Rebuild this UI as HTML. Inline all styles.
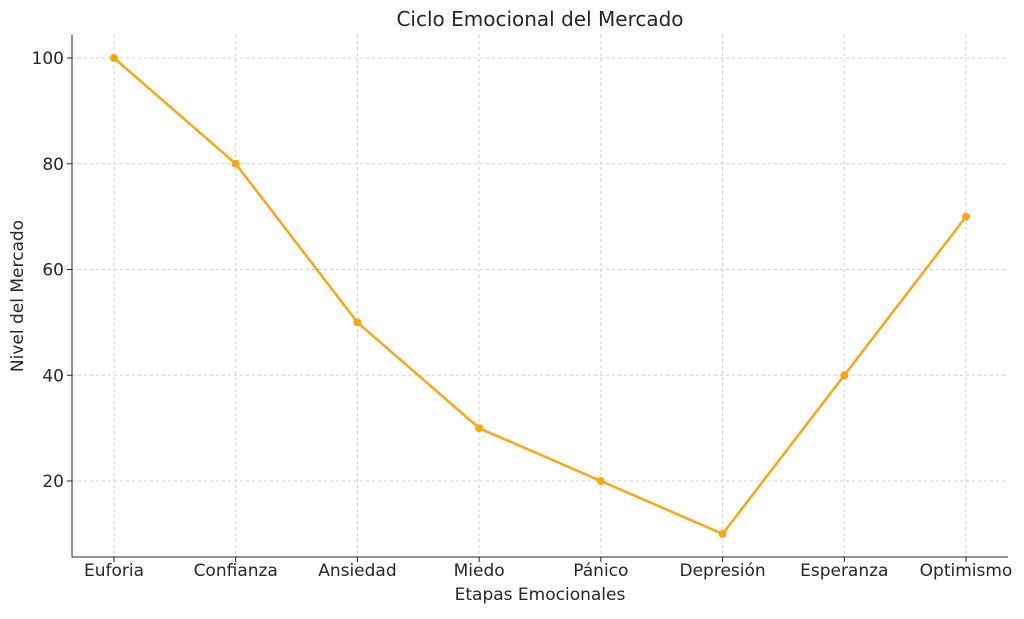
<!DOCTYPE html>
<html><head><meta charset="utf-8"><style>
body{margin:0;background:#fff;}
svg text{font-family:"DejaVu Sans","Liberation Sans",sans-serif;fill:#262626;}
</style></head><body>
<svg id="chart" width="1024" height="614">
<text x="540" y="26" font-size="20" text-anchor="middle">Ciclo Emocional del Mercado</text>
<g id="grid"></g>
<g id="axes"></g>
<g id="series"></g>
<text x="540" y="600" font-size="17" text-anchor="middle">Etapas Emocionales</text>
<text transform="translate(23,296) rotate(-90)" font-size="17" text-anchor="middle">Nivel del Mercado</text>
</svg>
<script>
const categories=["Euforia","Confianza","Ansiedad","Miedo","Pánico","Depresión","Esperanza","Optimismo"];
const values=[100,80,50,30,20,10,40,70];
const yTicks=[20,40,60,80,100];
const NS="http://www.w3.org/2000/svg";
const L=72,R=1008,T=35,B=557;
const x=i=>114+i*(966-114)/(categories.length-1);
const y=v=>586.75-v*5.2875;
function mk(tag,attrs,parent){const e=document.createElementNS(NS,tag);for(const k in attrs)e.setAttribute(k,attrs[k]);parent.appendChild(e);return e;}
const grid=document.getElementById('grid'),axes=document.getElementById('axes'),ser=document.getElementById('series');
categories.forEach((c,i)=>{
 const g=mk('line',{x1:x(i),x2:x(i),y1:T,y2:B,stroke:'#d0d0d0','stroke-dasharray':'3,3'},grid);
 
 
 const t=mk('line',{x1:x(i),x2:x(i),y1:B,y2:B+5,stroke:'#262626'},axes);
 
 
 const l=mk('text',{x:x(i),y:B+19,'font-size':17,'text-anchor':'middle'},axes);l.textContent=c;
 
 
});
yTicks.forEach(v=>{
 const g=mk('line',{x1:L,x2:R,y1:y(v),y2:y(v),stroke:'#d0d0d0','stroke-dasharray':'3,3'},grid);
 
 
 const t=mk('line',{x1:L-5,x2:L,y1:y(v),y2:y(v),stroke:'#262626'},axes);
 
 
 const l=mk('text',{x:L-8,y:y(v)+6,'font-size':17,'text-anchor':'end'},axes);l.textContent=v;
 
 
});
const sp=mk('path',{d:`M${L},${T}V${B}H${R}`,fill:'none',stroke:'#262626','stroke-width':1},axes);


const line=mk('polyline',{points:values.map((v,i)=>x(i)+','+y(v)).join(' '),fill:'none',stroke:'#FFA514','stroke-width':2.5},ser);


values.forEach((v,i)=>{
 const p=mk('circle',{cx:x(i),cy:y(v),r:4,fill:'#FFA514'},ser);
 
 
});
</script>
</body></html>
